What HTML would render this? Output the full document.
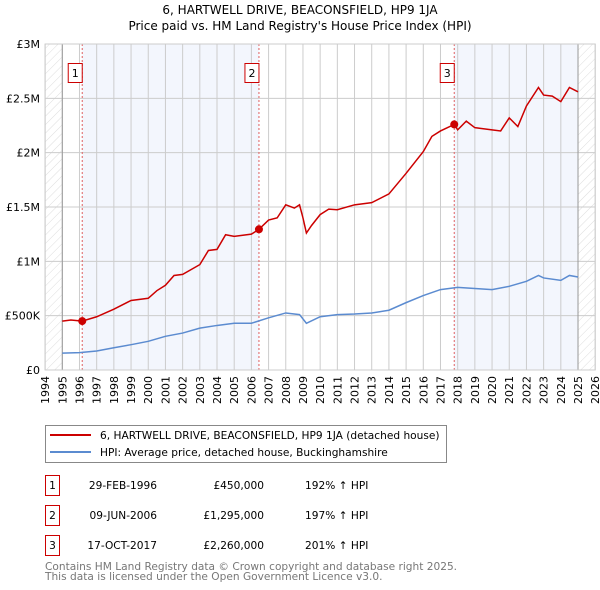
<!DOCTYPE html>
<html><head><meta charset="utf-8"><style>
body{margin:0;background:#fff}
svg{display:block;font-family:"DejaVu Sans","Liberation Sans",sans-serif}
</style></head><body>
<svg id="c" width="600" height="590" viewBox="0 0 600 590">
<defs><pattern id="hatch" patternUnits="userSpaceOnUse" width="6" height="6" patternTransform="rotate(45)"><line x1="0" y1="0" x2="0" y2="6" stroke="#d4d4d4" stroke-width="0.8"/></pattern></defs>
<text x="300" y="14" text-anchor="middle" font-size="12">6, HARTWELL DRIVE, BEACONSFIELD, HP9 1JA</text>
<text x="300" y="30" text-anchor="middle" font-size="12">Price paid vs. HM Land Registry's House Price Index (HPI)</text>
<g id="bg"></g><g id="grid"></g><g id="series"></g><g id="axes"></g>
<g>
<rect x="45.5" y="425.5" width="401" height="37" fill="#fff" stroke="#888"/>
<line x1="50" y1="435" x2="91" y2="435" stroke="#cc0000" stroke-width="2"/>
<text x="100" y="439" font-size="10.6">6, HARTWELL DRIVE, BEACONSFIELD, HP9 1JA (detached house)</text>
<line x1="50" y1="452" x2="91" y2="452" stroke="#5b8bd0" stroke-width="2"/>
<text x="100" y="456" font-size="10.6">HPI: Average price, detached house, Buckinghamshire</text>
</g>
<g id="table" font-size="10.6"></g>
<text x="45" y="570" font-size="10.6" fill="#777">Contains HM Land Registry data © Crown copyright and database right 2025.</text>
<text x="45" y="580" font-size="10.6" fill="#777">This data is licensed under the Open Government Licence v3.0.</text>
</svg>
<script>
const redYears=[1995,1995.5,1996.16,1997,1998,1999,2000,2000.5,2001,2001.5,2002,2003,2003.5,2004,2004.5,2005,2006,2006.44,2007,2007.5,2008,2008.5,2008.8,2009,2009.2,2009.5,2010,2010.5,2011,2012,2013,2014,2015,2016,2016.5,2017,2017.8,2018,2018.5,2019,2020,2020.5,2021,2021.5,2022,2022.7,2023,2023.5,2024,2024.5,2025];
const redVals=[450,460,450,490,560,640,660,730,780,870,880,970,1100,1110,1245,1230,1250,1295,1380,1400,1520,1490,1520,1400,1260,1330,1430,1480,1475,1520,1540,1620,1810,2010,2150,2200,2260,2210,2290,2230,2210,2200,2320,2240,2430,2600,2530,2520,2470,2600,2560];
const hpiYears=[1995,1996,1997,1998,1999,2000,2001,2002,2003,2004,2005,2006,2007,2008,2008.8,2009.2,2010,2011,2012,2013,2014,2015,2016,2017,2018,2019,2020,2021,2022,2022.7,2023,2024,2024.5,2025];
const hpiVals=[155,160,175,205,233,264,310,340,385,410,430,430,480,525,510,430,490,510,515,525,550,620,685,740,760,750,740,770,816,870,847,825,870,856];
const saleLabels=["1","2","3"];
const saleYears=[1996.16,2006.44,2017.8];
const saleVals=[450,1295,2260];
const saleDates=["29-FEB-1996","09-JUN-2006","17-OCT-2017"];
const salePrices=["£450,000","£1,295,000","£2,260,000"];
const saleHpi=["192% ↑ HPI","197% ↑ HPI","201% ↑ HPI"];
const yTicks=[0,500,1000,1500,2000,2500,3000];
const yTickLabels=["£0","£500K","£1M","£1.5M","£2M","£2.5M","£3M"];
const xTicks=[1994,1995,1996,1997,1998,1999,2000,2001,2002,2003,2004,2005,2006,2007,2008,2009,2010,2011,2012,2013,2014,2015,2016,2017,2018,2019,2020,2021,2022,2023,2024,2025,2026];

const NS="http://www.w3.org/2000/svg";
const X0=45.1,X1=595.2,Y0=370,Y1=44;
const xs=y=>X0+(y-1994)*(X1-X0)/32;
const ys=v=>Y0-(v/3000)*(Y0-Y1);
function mk(parent,tag,attrs,text){const e=document.createElementNS(NS,tag);for(const k in attrs)e.setAttribute(k,attrs[k]);if(text!=null)e.textContent=text;document.getElementById(parent).appendChild(e);return e;}

let e;
e=mk('bg','rect',{x:X0,y:Y1,width:X1-X0,height:Y0-Y1,fill:'#fff'});


e=mk('bg','rect',{x:X0,y:Y1,width:xs(1995)-X0,height:Y0-Y1,fill:'url(#hatch)'});


e=mk('bg','rect',{x:xs(2025),y:Y1,width:X1-xs(2025),height:Y0-Y1,fill:'url(#hatch)'});


e=mk('bg','rect',{x:xs(saleYears[0]),y:Y1,width:xs(saleYears[1])-xs(saleYears[0]),height:Y0-Y1,fill:'#f3f6fd'});


e=mk('bg','rect',{x:xs(saleYears[2]),y:Y1,width:xs(2025)-xs(saleYears[2]),height:Y0-Y1,fill:'#f3f6fd'});



xTicks.forEach(t=>{
  e=mk('grid','line',{x1:xs(t),x2:xs(t),y1:Y1,y2:Y0,stroke:'#ccc','stroke-width':1});
  
  
  e=mk('axes','text',{x:0,y:0,transform:`translate(${xs(t)+4},${Y0+6}) rotate(-90)`,'text-anchor':'end','font-size':11},String(t));
  
  
});
yTicks.forEach((t,i)=>{
  e=mk('grid','line',{x1:X0,x2:X1,y1:ys(t),y2:ys(t),stroke:'#ccc','stroke-width':1});
  
  
  e=mk('axes','text',{x:40,y:ys(t)+4,'text-anchor':'end','font-size':11},yTickLabels[i]);
  
  
});
[1995,2025].forEach(t=>{
  e=mk('grid','line',{x1:xs(t),x2:xs(t),y1:Y1,y2:Y0,stroke:'#999','stroke-width':1});
  
  
});
saleYears.forEach((s,i)=>{
  e=mk('grid','line',{x1:xs(s),x2:xs(s),y1:Y1,y2:Y0,stroke:'#e06060','stroke-width':1,'stroke-dasharray':'2,2'});
  
  
});
e=mk('series','polyline',{points:hpiYears.map((y,i)=>xs(y)+','+ys(hpiVals[i])).join(' '),fill:'none',stroke:'#5b8bd0','stroke-width':1.5});


e=mk('series','polyline',{points:redYears.map((y,i)=>xs(y)+','+ys(redVals[i])).join(' '),fill:'none',stroke:'#cc0000','stroke-width':1.5});


saleYears.forEach((s,i)=>{
  e=mk('series','circle',{cx:xs(s),cy:ys(saleVals[i]),r:4,fill:'#cc0000'});
  
  
  e=mk('series','rect',{x:xs(s)-14,y:63.5,width:14,height:19,fill:'#fff',stroke:'#cc0000'});
  
  
  e=mk('series','text',{x:xs(s)-7,y:77,'text-anchor':'middle','font-size':11},saleLabels[i]);
  
  
});
e=mk('axes','rect',{x:X0,y:Y1,width:X1-X0,height:Y0-Y1,fill:'none',stroke:'#ccc'});



saleLabels.forEach((l,i)=>{
  const y=483+i*30;
  e=mk('table','rect',{x:45.5,y:y-7.5,width:14,height:20,fill:'#fff',stroke:'#cc0000'});
  
  
  e=mk('table','text',{x:52.5,y:y+6,'text-anchor':'middle'},l);
  
  
  e=mk('table','text',{x:157,y:y+6,'text-anchor':'end'},saleDates[i]);
  
  
  e=mk('table','text',{x:264,y:y+6,'text-anchor':'end'},salePrices[i]);
  
  
  e=mk('table','text',{x:305,y:y+6},saleHpi[i]);
  
  
});
</script>
</body></html>
